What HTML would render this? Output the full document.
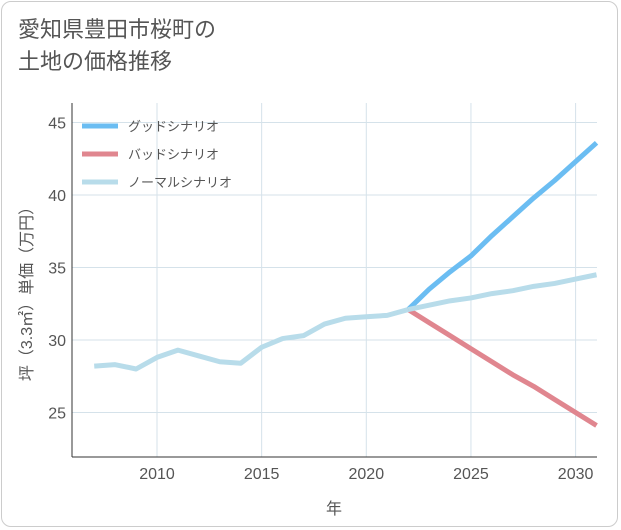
<!DOCTYPE html>
<html><head><meta charset="utf-8"><style>
body{margin:0;background:#fff;}
#wrap{position:relative;width:621px;height:530px;font-family:"Liberation Sans","Noto Sans CJK JP",sans-serif;}
#frame{position:absolute;left:1px;top:1px;width:617px;height:526px;border:1px solid #ccc;border-radius:10px;box-sizing:border-box;}
#title{position:absolute;left:18px;top:14px;font-size:22px;line-height:32px;color:#555;}
</style></head><body>
<div id="wrap">
<div id="frame"></div>
<div id="title">愛知県豊田市桜町の<br>土地の価格推移</div>
<svg id="chart" width="621" height="530" style="position:absolute;left:0;top:0"></svg>
</div>
<script>
const years=[2007,2008,2009,2010,2011,2012,2013,2014,2015,2016,2017,2018,2019,2020,2021,2022];
const history=[28.2,28.3,28.0,28.8,29.3,28.9,28.5,28.4,29.5,30.1,30.3,31.1,31.5,31.6,31.7,32.1];
const futureYears=[2022,2023,2024,2025,2026,2027,2028,2029,2030,2031];
const good=[32.1,33.5,34.7,35.8,37.2,38.5,39.8,41.0,42.3,43.6];
const bad=[32.1,31.2,30.3,29.4,28.5,27.6,26.8,25.9,25.0,24.1];
const normal=[32.1,32.4,32.7,32.9,33.2,33.4,33.7,33.9,34.2,34.5];
const xTicks=[2010,2015,2020,2025,2030];
const yTicks=[25,30,35,40,45];
const NS="http://www.w3.org/2000/svg";
const svg=document.getElementById('chart');
const L=72,R=597,T=103,B=457;
const x=v=>157+(v-2010)*20.93;
const y=v=>340-(v-30)*14.5;
function el(t,a,p){const e=document.createElementNS(NS,t);for(const k in a)e.setAttribute(k,a[k]);(p||svg).appendChild(e);return e;}
const bg=el('rect',{x:L,y:T,width:R-L,height:B-T,fill:'#fff',stroke:'none'});


xTicks.forEach(v=>{
 const g=el('line',{x1:x(v),x2:x(v),y1:T,y2:B,stroke:'#d5e2ea','stroke-width':1});
 
 
 const t=el('text',{x:x(v),y:B+22,'text-anchor':'middle','font-size':16,fill:'#555'});
 t.textContent=v;
 
 
});
yTicks.forEach(v=>{
 const g=el('line',{x1:L,x2:R,y1:y(v),y2:y(v),stroke:'#d5e2ea','stroke-width':1});
 
 
 const t=el('text',{x:L-6,y:y(v)+6,'text-anchor':'end','font-size':16,fill:'#555'});
 t.textContent=v;
 
 
});
const ax=el('line',{x1:L,x2:L,y1:T,y2:B,stroke:'#333','stroke-width':1});


const ax2=el('line',{x1:L,x2:R,y1:B,y2:B,stroke:'#333','stroke-width':1});


function line(xs,vs,color,name){
 const p=el('polyline',{points:xs.map((v,i)=>x(v)+','+y(vs[i])).join(' '),fill:'none',stroke:color,'stroke-width':5,'stroke-linejoin':'round'});
 
 
}
line(futureYears,good,'#6bbdf2','good-scenario-line');
line(futureYears,bad,'#e0868f','bad-scenario-line');
line(futureYears,normal,'#b8dcea','normal-scenario-line');
line(years,history,'#b8dcea','history-line');
const legend=[['グッドシナリオ','#6bbdf2'],['バッドシナリオ','#e0868f'],['ノーマルシナリオ','#b8dcea']];
legend.forEach((d,i)=>{
 const yy=126+i*28;
 const s=el('line',{x1:82,x2:118,y1:yy,y2:yy,stroke:d[1],'stroke-width':5});
 
 
 const t=el('text',{x:128,y:yy+5,'font-size':13,fill:'#555'});
 t.textContent=d[0];
 
 
});
const xt=el('text',{x:334,y:514,'text-anchor':'middle','font-size':16,fill:'#555'});
xt.textContent='年';


const yt=el('text',{x:0,y:0,'text-anchor':'middle','font-size':16,fill:'#555',transform:'translate(32,290) rotate(-90)'});
yt.textContent='坪（3.3㎡）単価（万円）';


</script>
</body></html>
